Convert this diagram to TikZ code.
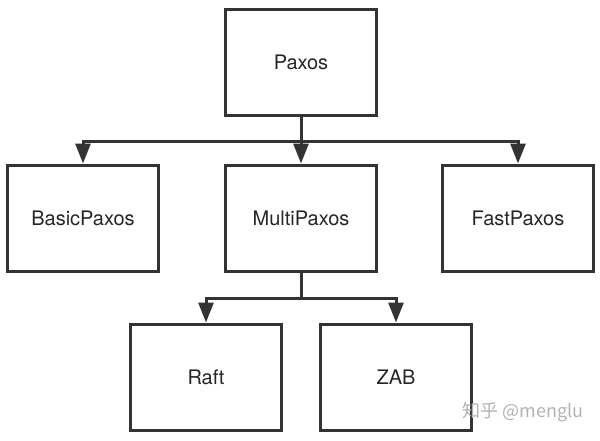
\documentclass[tikz,border=0pt]{standalone}
\usepackage{fontspec}
\usepackage{xcolor}
\usepackage{tikz}
\usetikzlibrary{arrows.meta,positioning,calc}
\newfontfamily\helv{TeX Gyre Heros}
\newfontfamily\cjk{Noto Sans CJK SC}
\definecolor{linea}{HTML}{333333}

\begin{document}
\begin{tikzpicture}[>={Triangle[length=20pt,width=15pt]},x=1pt,y=-1pt,
  box/.style={draw=linea,line width=3pt,minimum width=151pt,minimum height=106pt,
    font=\helv\fontsize{20}{24}\selectfont,text=black!85},
  conn/.style={draw=linea,line width=3pt}]
  \useasboundingbox (0,0) rectangle (600,440);
  % livello 0 e 1
  \node[box] (paxos) at (301,62) {Paxos};
  \node[box] (basic) at (83,218) {BasicPaxos};
  \node[box] (multi) at (301,218) {MultiPaxos};
  \node[box] (fast) at (518,218) {FastPaxos};
  % livello 2
  \node[box] (raft) at (206,377) {Raft};
  \node[box] (zab) at (396,377) {ZAB};
  % diramazioni
  \coordinate (j1) at (301,141);
  \coordinate (j2) at (301,298);
  \draw[conn] (paxos.south) -- (j1);
  \draw[conn,->] (j1) -| (basic.north);
  \draw[conn,->] (j1) -| (fast.north);
  \draw[conn,->] (j1) -- (multi.north);
  \draw[conn] (multi.south) -- (j2);
  \draw[conn,->] (j2) -| (raft.north);
  \draw[conn,->] (j2) -| (zab.north);
  \node[font=\cjk\fontsize{18}{21}\selectfont,text=black!30] (wm) at (523,412) {知乎 @menglu};
\end{tikzpicture}
\end{document}
